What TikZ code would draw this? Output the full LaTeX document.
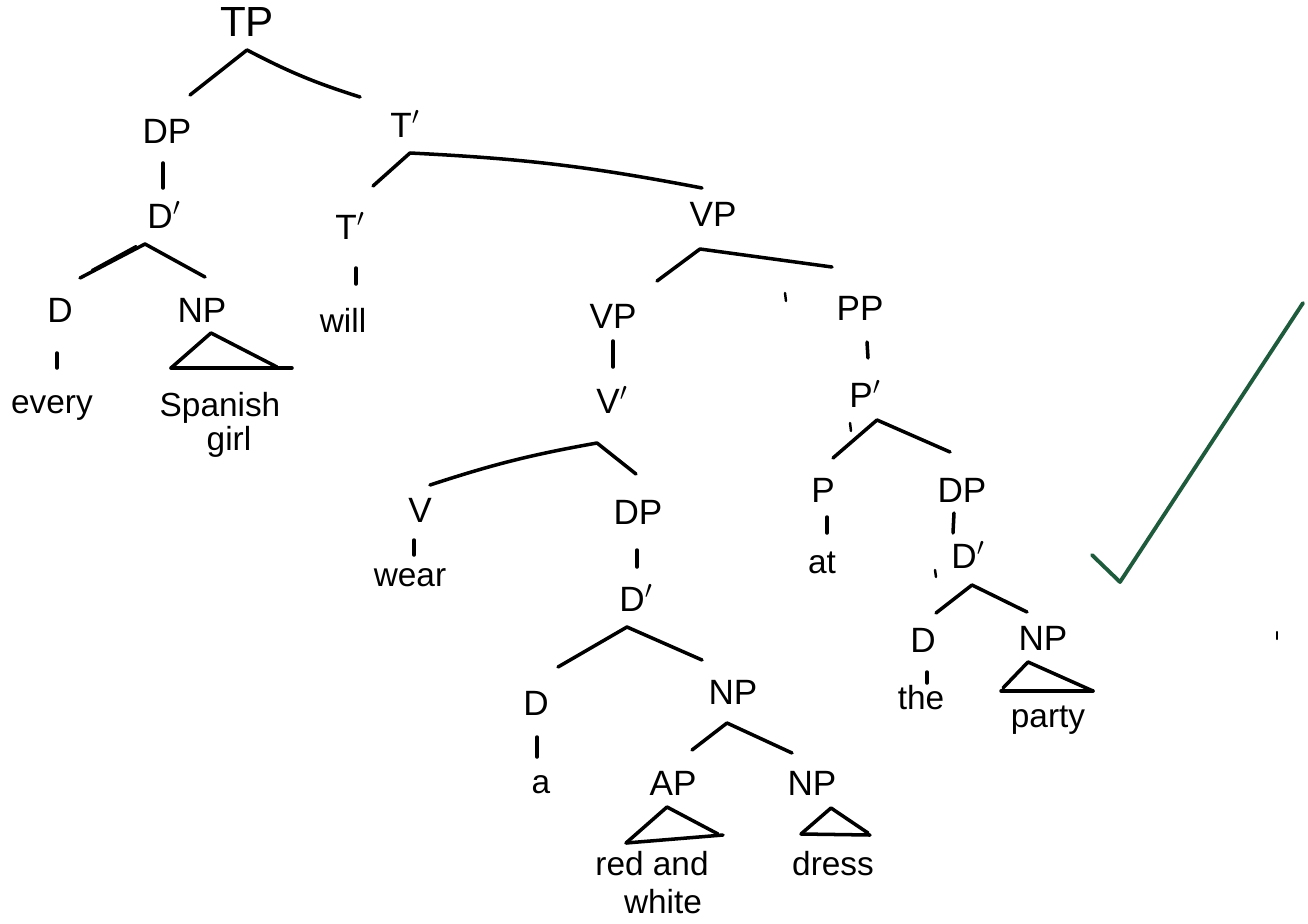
\documentclass[tikz,border=0pt]{standalone}
\usepackage{fontspec}
\setmainfont{Liberation Sans}
\begin{document}
\begin{tikzpicture}[x=0.02cm,y=-0.02cm,
  big/.style={font=\fontsize{24}{26}\selectfont, inner sep=0},
  lbl/.style={font=\fontsize{20}{22}\selectfont, inner sep=0},
  wrd/.style={font=\fontsize{19}{21}\selectfont, inner sep=0},
  br/.style={line width=2pt, line cap=round, line join=round},
  tk/.style={line width=1.4pt, line cap=round},
  chk/.style={line width=2.2pt, draw={rgb,255:red,30;green,90;blue,60}, line cap=round, line join=round}]
\useasboundingbox (0,0) rectangle (1308,923);
% ---------- labels ----------
\node[big] (TP) at (247,22) {TP};
\node[lbl] (DP1) at (167,131) {DP};
\node[lbl] (T1) at (405,124) {T$'$};
\node[lbl] (Db1) at (164,215) {D$'$};
\node[lbl] (T2) at (350,226) {T$'$};
\node[lbl] (VP1) at (713,214) {VP};
\node[lbl] (D1) at (60,310) {D};
\node[lbl] (NP1) at (202,310) {NP};
\node[wrd] (will) at (343,320) {will};
\node[wrd] (every) at (52,408) {every};
\node[wrd] (spanish) at (220,408) {Spanish};
\node[wrd] (girl) at (229,442) {girl};
\node[lbl] (VP2) at (613,316) {VP};
\node[lbl] (PP) at (860,308) {PP};
\node[lbl] (Vb) at (612,400) {V$'$};
\node[lbl] (Pb) at (865,394) {P$'$};
\node[lbl] (V) at (420,510) {V};
\node[lbl] (DP2) at (638,512) {DP};
\node[lbl] (P) at (823,490) {P};
\node[lbl] (DP3) at (962,490) {DP};
\node[wrd] (wear) at (410,578) {wear};
\node[wrd] (at) at (822,563) {at};
\node[lbl] (Db2) at (636,598) {D$'$};
\node[lbl] (Db3) at (968,555) {D$'$};
\node[lbl] (D2) at (536,703) {D};
\node[lbl] (NP2) at (733,692) {NP};
\node[lbl] (D3) at (923,640) {D};
\node[lbl] (NP3) at (1043,638) {NP};
\node[wrd] (the) at (921,698) {the};
\node[wrd] (party) at (1048,720) {party};
\node[wrd] (a) at (541,785) {a};
\node[lbl] (AP) at (673,783) {AP};
\node[lbl] (NP4) at (812,783) {NP};
\node[wrd] (redand) at (652,864) {red and};
\node[wrd] (white) at (663,902) {white};
\node[wrd] (dress) at (833,864) {dress};
% ---------- coordinates ----------
\coordinate (tpA) at (247,50); \coordinate (tpL) at (190,95); \coordinate (tpR) at (360,97);
\coordinate (dp1T) at (163,163); \coordinate (dp1B) at (163,188);
\coordinate (db1A) at (145,244); \coordinate (db1L) at (80,278); \coordinate (db1R) at (205,277);
\coordinate (db1X) at (136,246); \coordinate (db1Y) at (92,270);
\coordinate (d1T) at (57,353); \coordinate (d1B) at (57,368);
\coordinate (np1A) at (211,333); \coordinate (np1L) at (171,368); \coordinate (np1R) at (277,367); \coordinate (np1E) at (292,368);
\coordinate (t1A) at (410,153); \coordinate (t1L) at (373,186); \coordinate (t1R) at (702,188);
\coordinate (t2T) at (356,268); \coordinate (t2B) at (356,284);
\coordinate (vp1A) at (700,249); \coordinate (vp1L) at (657,281); \coordinate (vp1R) at (832,267);
\coordinate (vp2T) at (613,341); \coordinate (vp2B) at (613,367);
\coordinate (vbA) at (597,443); \coordinate (vbL) at (430,485); \coordinate (vbR) at (636,474);
\coordinate (vT) at (414,540); \coordinate (vB) at (414,555);
\coordinate (dp2T) at (637,550); \coordinate (dp2B) at (637,567);
\coordinate (db2A) at (627,627); \coordinate (db2L) at (558,667); \coordinate (db2R) at (702,660);
\coordinate (d2T) at (537,737); \coordinate (d2B) at (537,757);
\coordinate (np2A) at (727,723); \coordinate (np2L) at (692,750); \coordinate (np2R) at (792,753);
\coordinate (apA) at (667,807); \coordinate (apL) at (626,843); \coordinate (apR) at (718,834); \coordinate (apE) at (723,835);
\coordinate (np4A) at (831,808); \coordinate (np4L) at (801,834); \coordinate (np4R) at (868,833); \coordinate (np4E) at (870,835);
\coordinate (ppT) at (867,342); \coordinate (ppB) at (868,358);
\coordinate (pbA) at (877,420); \coordinate (pbL) at (833,458); \coordinate (pbR) at (950,452);
\coordinate (pT) at (827,517); \coordinate (pB) at (827,533);
\coordinate (dp3T) at (954,513); \coordinate (dp3B) at (953,533);
\coordinate (db3A) at (972,585); \coordinate (db3L) at (936,613); \coordinate (db3R) at (1027,612);
\coordinate (d3T) at (927,672); \coordinate (d3B) at (927,683);
\coordinate (np3A) at (1028,662); \coordinate (np3L) at (1003,688); \coordinate (np3R) at (1093,691); \coordinate (np3E) at (1001,691);
\coordinate (ck1) at (1092,555); \coordinate (ck2) at (1120,582); \coordinate (ck3) at (1303,303);
\coordinate (s1a) at (785,293); \coordinate (s1b) at (786,301);
\coordinate (s2a) at (850,423); \coordinate (s2b) at (851,431);
\coordinate (s3a) at (935,570); \coordinate (s3b) at (936,577);
\coordinate (s4a) at (1277,632); \coordinate (s4b) at (1277,639);
% ---------- branches ----------
\draw[br] (tpL) -- (tpA) to[bend right=5] (tpR);
\draw[br] (dp1T) -- (dp1B);
\draw[br] (db1L) -- (db1A) -- (db1R);
\draw[br, line width=1.3pt] (db1X) -- (db1Y);
\draw[br] (d1T) -- (d1B);
\draw[br] (np1L) -- (np1A) -- (np1R);
\draw[br] (np1L) -- (np1E);
\draw[br] (t1L) -- (t1A) to[bend left=4] (t1R);
\draw[br] (t2T) -- (t2B);
\draw[br] (vp1L) -- (vp1A) -- (vp1R);
\draw[br] (vp2T) -- (vp2B);
\draw[br] (vbR) -- (vbA) to[bend right=4] (vbL);
\draw[br] (vT) -- (vB);
\draw[br] (dp2T) -- (dp2B);
\draw[br] (db2L) -- (db2A) -- (db2R);
\draw[br] (d2T) -- (d2B);
\draw[br] (np2L) -- (np2A) -- (np2R);
\draw[br] (apL) -- (apA) -- (apR);
\draw[br] (apL) -- (apE);
\draw[br] (np4L) -- (np4A) -- (np4R);
\draw[br] (np4L) -- (np4E);
\draw[br] (ppT) -- (ppB);
\draw[br] (pbL) -- (pbA) -- (pbR);
\draw[br] (pT) -- (pB);
\draw[br] (dp3T) -- (dp3B);
\draw[br] (db3L) -- (db3A) -- (db3R);
\draw[br] (d3T) -- (d3B);
\draw[br] (np3L) -- (np3A) -- (np3R);
\draw[br] (np3E) -- (np3R);
% stray pen marks
\draw[tk] (s1a) -- (s1b);
\draw[tk] (s2a) -- (s2b);
\draw[tk] (s3a) -- (s3b);
\draw[tk] (s4a) -- (s4b);
% check mark
\draw[chk] (ck1) -- (ck2) -- (ck3);
\end{tikzpicture}
\end{document}
